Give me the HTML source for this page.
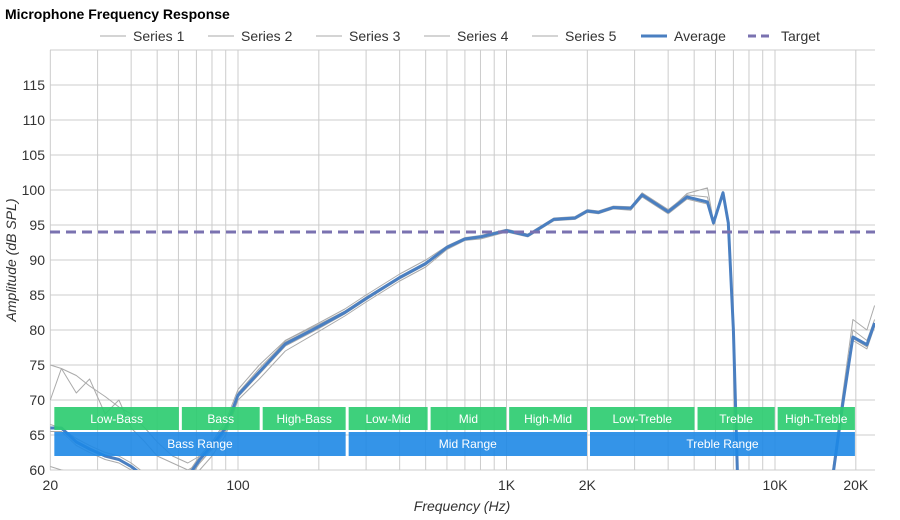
<!DOCTYPE html>
<html><head><meta charset="utf-8"><style>
html,body{margin:0;background:#fff;overflow:hidden;width:900px;height:520px;}
svg{display:block;font-family:"Liberation Sans",sans-serif;}
</style></head><body>
<svg id="chart" width="900" height="520">
<text x="5" y="19" font-size="14" font-weight="bold" fill="#000">Microphone Frequency Response</text>
<g id="grid"></g>
<g id="series" clip-path="url(#clip)"></g>
<g id="bands"></g>
<g id="legend"></g>
<defs><clipPath id="clip"><rect x="50" y="50" width="825" height="420"/></clipPath></defs>
<text x="462" y="511" font-size="14" font-style="italic" text-anchor="middle" fill="#333">Frequency (Hz)</text>
<text transform="translate(16,260) rotate(-90)" font-size="14" font-style="italic" text-anchor="middle" fill="#333">Amplitude (dB SPL)</text>
</svg>
<script>
const freqs=[20,22,25,28,32,36,40,45,50,57,65,72,80,90,100,120,150,200,250,300,400,500,600,700,800,1000,1200,1500,1800,2000,2200,2500,2900,3200,4000,4700,5600,5900,6400,6700,7000,7300,9000,16000,17900,19500,22000,23500];
const average=[66,66,64,63,62,61.5,60.5,59,58,57,59,61.5,63.5,66,70.7,74,78,80.5,82.5,84.5,87.5,89.5,91.8,93,93.3,94.2,93.5,95.8,96,97,96.8,97.5,97.4,99.3,96.9,99,98.3,95.3,99.6,95.3,80,55,30,56,69.6,79,77.9,81];
const series1=[75,74.5,73.5,72,70.5,69,68,66,64,62,61,62,64,67,71.5,75,78.5,81,83,85,88,90,92,93.2,93.5,94.4,93.7,96,96.2,97.2,97,97.7,97.6,99.6,97.2,99.3,99,95.6,99.8,95.5,80,55,30,57,71,81.5,80,83.5];
const series2=[70,74.5,71,73,68,70,66,64,62,61,60,61,63,66,70.5,74,78.5,80.8,82.7,84.7,87.6,89.6,91.9,93.1,93.4,94.3,93.6,95.9,96.1,97.1,96.9,97.6,97.5,99.4,97,99.5,100.3,95.5,99.7,95.4,80,55,30,56.5,70,80,78.5,81.5];
const series3=[60.5,60,59.5,58,57,58,57,56,55,54,57,60,62,65,70,73,77,79.8,82,84,87,89,91.5,92.8,93,94,93.3,95.6,95.8,96.8,96.6,97.3,97.1,99,96.6,98.7,98,95,99.4,95.1,80,55,30,55.5,69,78.5,77.3,80.5];
const series4=[66.5,66,64.5,63.5,62.5,62,61,59.5,58.5,57.5,59.5,62,64,66.5,71,74.5,78.3,80.6,82.6,84.6,87.6,89.6,91.8,93,93.3,94.2,93.5,95.8,96,97,96.8,97.5,97.5,99.4,97,99,98.4,95.4,99.6,95.3,80,55,30,56,69.5,79,78,81];
const series5=[65.5,65.5,63.5,62.5,61.5,61,60,58.5,57.5,56.5,58.5,61,63,65.5,70.4,73.7,77.7,80.2,82.3,84.3,87.3,89.3,91.6,92.9,93.2,94.1,93.4,95.7,95.9,96.9,96.7,97.4,97.3,99.1,96.8,98.9,98.2,95.2,99.5,95.2,80,55,30,56,69.6,78.8,77.6,80.8];
const yTicks=[60,65,70,75,80,85,90,95,100,105,110,115];
const xTickVals=[20,100,1000,2000,10000,20000];
const xTickLabels=["20","100","1K","2K","10K","20K"];
const gridFreqs=[20,30,40,50,60,70,80,90,100,200,300,400,500,600,700,800,900,1000,2000,3000,4000,5000,6000,7000,8000,9000,10000,20000];
const target=94;
const bandNames=["Low-Bass","Bass","High-Bass","Low-Mid","Mid","High-Mid","Low-Treble","Treble","High-Treble"];
const bandEdges=[20,61,122,255,515,1010,2020,5080,10100,20100];
const rangeNames=["Bass Range","Mid Range","Treble Range"];
const rangeEdges=[20,255,2020,20100];

const NS="http://www.w3.org/2000/svg";
const X0=50,X1=875,YT=50,YB=470;
const fx=f=>238+(Math.log10(f)-2)*268.5;
const fy=v=>470-(v-60)*7;
function el(tag,attrs,parent){const e=document.createElementNS(NS,tag);for(const k in attrs)e.setAttribute(k,attrs[k]);parent.appendChild(e);return e;}
const grid=document.getElementById('grid');
yTicks.forEach(v=>{
  const l=el('line',{x1:X0,x2:X1,y1:fy(v),y2:fy(v),stroke:'#ccc','stroke-width':1},grid);
  
  
  const t=el('text',{x:45,y:fy(v)+5,'font-size':14,'text-anchor':'end',fill:'#333'},grid);
  t.textContent=v;
  
  
});
el('line',{x1:X0,x2:X1,y1:YT,y2:YT,stroke:'#ccc'},grid);
gridFreqs.forEach(f=>{
  const l=el('line',{x1:fx(f),x2:fx(f),y1:YT,y2:YB,stroke:'#ccc','stroke-width':1},grid);
  
  
});
xTickVals.forEach((f,i)=>{
  const t=el('text',{x:fx(f),y:490,'font-size':14,'text-anchor':'middle',fill:'#333'},grid);
  t.textContent=xTickLabels[i];
  
  
});
const sg=document.getElementById('series');
function pts(vals){return freqs.map((f,i)=>fx(f).toFixed(1)+','+fy(vals[i]).toFixed(1)).join(' ');}
[series1,series2,series3,series4,series5].forEach((s,i)=>{
  const p=el('polyline',{points:pts(s),fill:'none',stroke:'#aaa','stroke-width':1,'stroke-linejoin':'round'},sg);
  
  
});
const avg=el('polyline',{points:pts(average),fill:'none',stroke:'#4a7fc1','stroke-width':3,'stroke-linejoin':'round'},sg);


const tl=el('line',{x1:X0,x2:X1,y1:fy(target),y2:fy(target),stroke:'#7a72b0','stroke-width':3,'stroke-dasharray':'10,6'},sg);


const bands=document.getElementById('bands');
bandNames.forEach((n,i)=>{
  const a=fx(bandEdges[i])+(i==0?4:1.5),b=fx(bandEdges[i+1])-1.5;
  const r=el('rect',{x:a,y:407,width:b-a,height:23,fill:'#2ecc71','fill-opacity':0.92},bands);
  
  
  const t=el('text',{x:(a+b)/2,y:423,'font-size':12,'text-anchor':'middle',fill:'#fff'},bands);
  t.textContent=n;
  
  
});
rangeNames.forEach((n,i)=>{
  const a=fx(rangeEdges[i])+(i==0?4:1.5),b=fx(rangeEdges[i+1])-1.5;
  const r=el('rect',{x:a,y:432,width:b-a,height:24,fill:'#1e88e5','fill-opacity':0.9},bands);
  
  
  const t=el('text',{x:(a+b)/2,y:448,'font-size':12,'text-anchor':'middle',fill:'#fff'},bands);
  t.textContent=n;
  
  
});
const lg=document.getElementById('legend');
const legendNames=["Series 1","Series 2","Series 3","Series 4","Series 5","Average","Target"];
const legendX=[100,208,316,424,532,641,748];
legendNames.forEach((n,i)=>{
  const x=legendX[i];
  const attrs={x1:x,x2:x+26,y1:36,y2:36,stroke:i<5?'#aaa':(i==5?'#4a7fc1':'#7a72b0'),'stroke-width':i<5?1:3};
  if(i==6)attrs['stroke-dasharray']='8,5';
  const l=el('line',attrs,lg);
  
  
  const t=el('text',{x:x+33,y:41,'font-size':14,fill:'#333'},lg);
  t.textContent=n;
  
  
});
</script>
</body></html>
